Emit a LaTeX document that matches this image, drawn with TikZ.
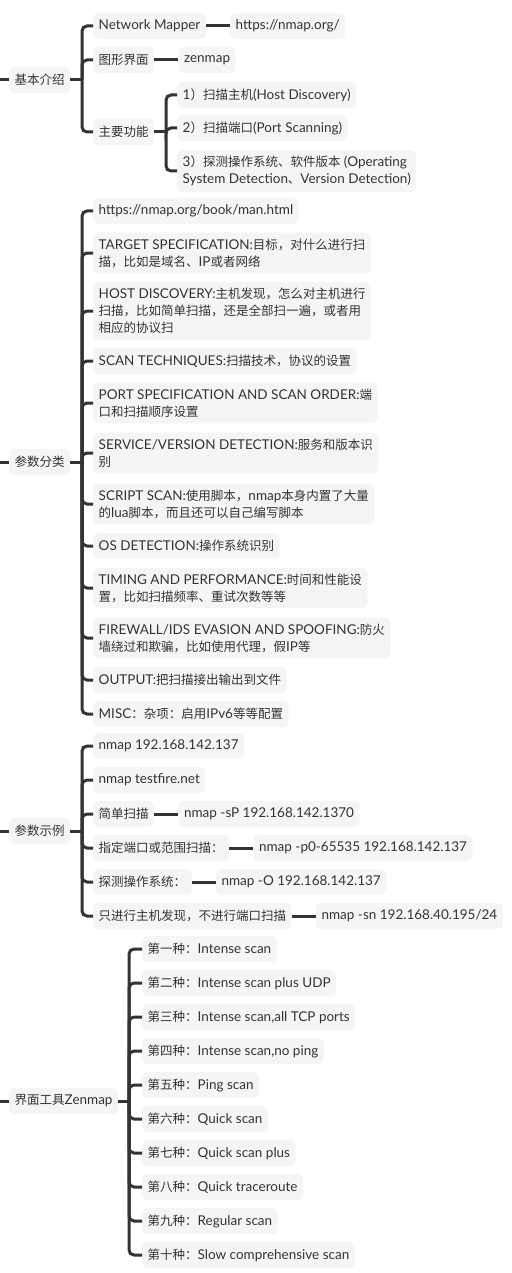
\documentclass[tikz,border=0pt]{standalone}
\usepackage{fontspec}
\setmainfont{Lato}[Scale=1.08]
\newfontfamily\cjkfont{Noto Sans CJK SC}
% CJK runs switch to the CJK font
\XeTeXinterchartokenstate=1
\newXeTeXintercharclass\cjkclass
\count255="3000
\loop
  \XeTeXcharclass\count255=\cjkclass
  \advance\count255 by 1
\ifnum\count255<"A000 \repeat
\count255="FF00
\loop
  \XeTeXcharclass\count255=\cjkclass
  \advance\count255 by 1
\ifnum\count255<"FFF0 \repeat
\XeTeXinterchartoks 0 \cjkclass = {\begingroup\cjkfont}
\XeTeXinterchartoks 4095 \cjkclass = {\begingroup\cjkfont}
\XeTeXinterchartoks \cjkclass 0 = {\endgroup}
\XeTeXinterchartoks \cjkclass 4095 = {\endgroup}
\usetikzlibrary{positioning}
\definecolor{ink}{HTML}{333333}
\definecolor{paper}{HTML}{F5F5F5}
\tikzset{
  topic/.style = {fill=paper, text=ink, rounded corners=5pt, anchor=west,
                  align=left, inner xsep=5.5pt, inner ysep=6pt,
                  minimum height=26pt, font=\fontsize{12.5}{17}\selectfont},
  branch/.style = {draw=ink, line width=3pt, rounded corners=5pt}
}

\begin{document}
\begin{tikzpicture}[x=1pt, y=-1pt]
	\def\lvlx{93}
	\def\subx{177}
	\def\zenx{142}
	\useasboundingbox (0,0) rectangle (511,1273);

	% Roots
	\node[topic] (intro) at (9,80) {基本介绍};
	\node[topic] (params) at (9,462) {参数分类};
	\node[topic] (examples) at (9,831) {参数示例};
	\node[topic] (gui) at (9,1101) {界面工具Zenmap};
	\coordinate (s-intro) at (0,80);
	\coordinate (s-params) at (0,462);
	\coordinate (s-examples) at (0,831);
	\coordinate (s-gui) at (0,1101);

	% Brackets
	\coordinate (b-intro) at (82,80);
	\coordinate (b-func) at (166,132);
	\coordinate (b-params) at (82,462);
	\coordinate (b-examples) at (82,831);
	\coordinate (b-gui) at (129,1101);

	% Intro
	\node[topic] (mapper) at (\lvlx,26) {Network Mapper};
	\node[topic, right=24pt of mapper] (site) {https://nmap.org/};
	\node[topic] (face) at (\lvlx,60) {图形界面};
	\node[topic, right=24pt of face] (zen) {zenmap};
	\node[topic] (func) at (\lvlx,132) {主要功能};
	\node[topic] (func1) at (\subx,95) {1）扫描主机(Host Discovery)};
	\node[topic] (func2) at (\subx,128) {2）扫描端口(Port Scanning)};
	\node[topic] (func3) at (\subx,171) {3）探测操作系统、软件版本 (Operating\\System Detection、Version Detection)};

	% Params
	\node[topic] (p1) at (\lvlx,211) {https://nmap.org/book/man.html};
	\node[topic] (p2) at (\lvlx,253) {TARGET SPECIFICATION:目标，对什么进行扫\\描，比如是域名、IP或者网络};
	\node[topic] (p3) at (\lvlx,311) {HOST DISCOVERY:主机发现，怎么对主机进行\\扫描，比如简单扫描，还是全部扫一遍，或者用\\相应的协议扫};
	\node[topic] (p4) at (\lvlx,361) {SCAN TECHNIQUES:扫描技术，协议的设置};
	\node[topic] (p5) at (\lvlx,403) {PORT SPECIFICATION AND SCAN ORDER:端\\口和扫描顺序设置};
	\node[topic] (p6) at (\lvlx,453) {SERVICE/VERSION DETECTION:服务和版本识\\别};
	\node[topic] (p7) at (\lvlx,504) {SCRIPT SCAN:使用脚本，nmap本身内置了大量\\的lua脚本，而且还可以自己编写脚本};
	\node[topic] (p8) at (\lvlx,546) {OS DETECTION:操作系统识别};
	\node[topic] (p9) at (\lvlx,588) {TIMING AND PERFORMANCE:时间和性能设\\置，比如扫描频率、重试次数等等};
	\node[topic] (p10) at (\lvlx,638) {FIREWALL/IDS EVASION AND SPOOFING:防火\\墙绕过和欺骗，比如使用代理，假IP等};
	\node[topic] (p11) at (\lvlx,680) {OUTPUT:把扫描接出输出到文件};
	\node[topic] (p12) at (\lvlx,714) {MISC：杂项：启用IPv6等等配置};

	% Examples
	\node[topic] (e1) at (\lvlx,746) {nmap 192.168.142.137};
	\node[topic] (e2) at (\lvlx,780) {nmap testfire.net};
	\node[topic] (e3) at (\lvlx,814) {简单扫描};
	\node[topic, right=24pt of e3] (c3) {nmap -sP 192.168.142.1370};
	\node[topic] (e4) at (\lvlx,848) {指定端口或范围扫描：};
	\node[topic, right=24pt of e4] (c4) {nmap -p0-65535 192.168.142.137};
	\node[topic] (e5) at (\lvlx,882) {探测操作系统：};
	\node[topic, right=24pt of e5] (c5) {nmap -O 192.168.142.137};
	\node[topic] (e6) at (\lvlx,916) {只进行主机发现，不进行端口扫描};
	\node[topic, right=24pt of e6] (c6) {nmap -sn 192.168.40.195/24};

	% Zenmap
	\node[topic] (z1) at (\zenx,949) {第一种：Intense scan};
	\node[topic] (z2) at (\zenx,983) {第二种：Intense scan plus UDP};
	\node[topic] (z3) at (\zenx,1017) {第三种：Intense scan,all TCP ports};
	\node[topic] (z4) at (\zenx,1051) {第四种：Intense scan,no ping};
	\node[topic] (z5) at (\zenx,1085) {第五种：Ping scan};
	\node[topic] (z6) at (\zenx,1119) {第六种：Quick scan};
	\node[topic] (z7) at (\zenx,1153) {第七种：Quick scan plus};
	\node[topic] (z8) at (\zenx,1187) {第八种：Quick traceroute};
	\node[topic] (z9) at (\zenx,1221) {第九种：Regular scan};
	\node[topic] (z10) at (\zenx,1255) {第十种：Slow comprehensive scan};

	% Stubs
	\draw[branch] (s-intro) -- (intro);
	\draw[branch] (s-params) -- (params);
	\draw[branch] (s-examples) -- (examples);
	\draw[branch] (s-gui) -- (gui);

	% Intro branches
	\draw[branch] (intro.east) -- (b-intro);
	\draw[branch] (b-intro) |- (mapper.west);
	\draw[branch] (b-intro) |- (face.west);
	\draw[branch] (b-intro) |- (func.west);
	\draw[branch] (mapper) -- (site);
	\draw[branch] (face) -- (zen);
	\draw[branch] (func.east) -- (b-func);
	\draw[branch] (b-func) |- (func1.west);
	\draw[branch] (b-func) |- (func2.west);
	\draw[branch] (b-func) |- (func3.west);

	% Params branches
	\draw[branch] (params.east) -- (b-params);
	\draw[branch] (b-params) |- (p1.west);
	\draw[branch] (b-params) |- (p2.west);
	\draw[branch] (b-params) |- (p3.west);
	\draw[branch] (b-params) |- (p4.west);
	\draw[branch] (b-params) |- (p5.west);
	\draw[branch] (b-params) |- (p6.west);
	\draw[branch] (b-params) |- (p7.west);
	\draw[branch] (b-params) |- (p8.west);
	\draw[branch] (b-params) |- (p9.west);
	\draw[branch] (b-params) |- (p10.west);
	\draw[branch] (b-params) |- (p11.west);
	\draw[branch] (b-params) |- (p12.west);

	% Examples branches
	\draw[branch] (examples.east) -- (b-examples);
	\draw[branch] (b-examples) |- (e1.west);
	\draw[branch] (b-examples) |- (e2.west);
	\draw[branch] (b-examples) |- (e3.west);
	\draw[branch] (b-examples) |- (e4.west);
	\draw[branch] (b-examples) |- (e5.west);
	\draw[branch] (b-examples) |- (e6.west);
	\draw[branch] (e3) -- (c3);
	\draw[branch] (e4) -- (c4);
	\draw[branch] (e5) -- (c5);
	\draw[branch] (e6) -- (c6);

	% Zenmap branches
	\draw[branch] (gui.east) -- (b-gui);
	\draw[branch] (b-gui) |- (z1.west);
	\draw[branch] (b-gui) |- (z2.west);
	\draw[branch] (b-gui) |- (z3.west);
	\draw[branch] (b-gui) |- (z4.west);
	\draw[branch] (b-gui) |- (z5.west);
	\draw[branch] (b-gui) |- (z6.west);
	\draw[branch] (b-gui) |- (z7.west);
	\draw[branch] (b-gui) |- (z8.west);
	\draw[branch] (b-gui) |- (z9.west);
	\draw[branch] (b-gui) |- (z10.west);
\end{tikzpicture}
\end{document}
